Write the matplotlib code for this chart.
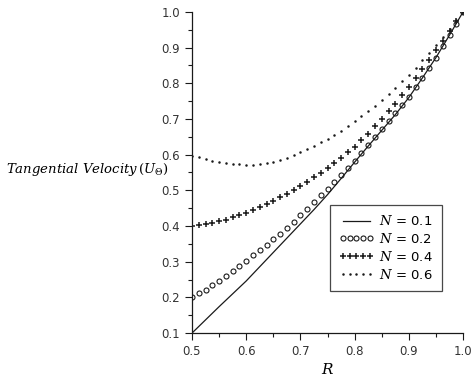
import matplotlib
matplotlib.use("Agg")
import matplotlib.pyplot as plt
import numpy as np

# ---- data ----
R_line = [0.5, 0.525, 0.55, 0.575, 0.6, 0.625, 0.65, 0.675, 0.7, 0.725, 0.75,
          0.775, 0.8, 0.825, 0.85, 0.875, 0.9, 0.925, 0.95, 0.975, 1.0]
U_N01 = [0.100, 0.137, 0.174, 0.210, 0.246, 0.286, 0.326, 0.366, 0.406, 0.446, 0.488,
         0.533, 0.579, 0.624, 0.668, 0.712, 0.760, 0.815, 0.872, 0.935, 1.0]

R_pts = [0.5, 0.5125, 0.525, 0.5375, 0.55, 0.5625, 0.575, 0.5875, 0.6, 0.6125,
         0.625, 0.6375, 0.65, 0.6625, 0.675, 0.6875, 0.7, 0.7125, 0.725, 0.7375,
         0.75, 0.7625, 0.775, 0.7875, 0.8, 0.8125, 0.825, 0.8375, 0.85, 0.8625,
         0.875, 0.8875, 0.9, 0.9125, 0.925, 0.9375, 0.95, 0.9625, 0.975, 0.9875, 1.0]
U_N02 = [0.200, 0.211, 0.222, 0.234, 0.247, 0.260, 0.274, 0.288, 0.303, 0.318,
         0.333, 0.348, 0.363, 0.379, 0.395, 0.412, 0.430, 0.449, 0.468, 0.486,
         0.505, 0.524, 0.543, 0.563, 0.583, 0.604, 0.626, 0.649, 0.672, 0.694,
         0.716, 0.739, 0.762, 0.789, 0.816, 0.844, 0.872, 0.903, 0.935, 0.967, 1.0]
U_N04 = [0.400, 0.402, 0.405, 0.409, 0.413, 0.418, 0.424, 0.430, 0.437, 0.444,
         0.452, 0.461, 0.470, 0.480, 0.490, 0.501, 0.512, 0.524, 0.536, 0.549,
         0.562, 0.576, 0.590, 0.606, 0.622, 0.640, 0.658, 0.679, 0.700, 0.721,
         0.743, 0.766, 0.790, 0.815, 0.840, 0.866, 0.893, 0.919, 0.946, 0.973, 1.0]
U_N06 = [0.597, 0.592, 0.587, 0.583, 0.579, 0.576, 0.574, 0.573, 0.572, 0.572,
         0.573, 0.576, 0.579, 0.584, 0.590, 0.598, 0.606, 0.615, 0.624, 0.634,
         0.644, 0.655, 0.667, 0.680, 0.693, 0.707, 0.721, 0.736, 0.752, 0.769,
         0.786, 0.805, 0.824, 0.844, 0.864, 0.885, 0.906, 0.929, 0.952, 0.976, 1.0]

labels = ["$N$ = 0.1", "$N$ = 0.2", "$N$ = 0.4", "$N$ = 0.6"]
x_ticks = [0.5, 0.6, 0.7, 0.8, 0.9, 1.0]
y_ticks = [0.1, 0.2, 0.3, 0.4, 0.5, 0.6, 0.7, 0.8, 0.9, 1.0]

plt.rcParams['mathtext.fontset'] = 'dejavuserif'

fig = plt.figure(figsize=(4.74, 3.82), dpi=100)
ax = fig.add_axes([0.405, 0.128, 0.572, 0.841])

c = '#1a1a1a'
ax.plot(R_line, U_N01, color=c, lw=0.9, label=labels[0])
ax.plot(R_pts, U_N02, ls='none', marker='o', ms=3.6, mfc='none', mec=c, mew=0.8, label=labels[1])
ax.plot(R_pts, U_N04, ls='none', marker='+', ms=4.2, mec=c, mew=1.1, label=labels[2])
ax.plot(R_pts, U_N06, ls='none', marker='o', ms=1.8, mfc=c, mec=c, mew=0, label=labels[3])

ax.set_xlim(0.5, 1.0)
ax.set_ylim(0.1, 1.0)
ax.set_xticks(x_ticks)
ax.set_yticks(y_ticks)
ax.set_xticklabels([f"{v:.1f}" for v in x_ticks])
ax.set_yticklabels([f"{v:.1f}" for v in y_ticks])
ax.set_xticks(np.arange(0.55, 1.0, 0.1), minor=True)
ax.set_yticks(np.arange(0.15, 1.0, 0.1), minor=True)
ax.tick_params(axis='both', which='major', length=5, width=0.8, labelsize=8.5,
               colors=c, labelcolor='#333333')
ax.tick_params(axis='both', which='minor', length=3, width=0.8, colors=c)
for s in ['top', 'right']:
    ax.spines[s].set_visible(False)
for s in ['left', 'bottom']:
    ax.spines[s].set_linewidth(0.9)
    ax.spines[s].set_color(c)

ax.set_xlabel("$R$", fontsize=11, labelpad=3)
fig.text(0.012, 0.555, r"$\mathit{Tangential\ Velocity}\,\left(U_{\Theta}\right)$",
         fontsize=9.5, ha='left', va='center')

leg = ax.legend(loc='upper left', bbox_to_anchor=(0.509, 0.399), numpoints=5,
                handlelength=2.6, fontsize=9.5, frameon=True, fancybox=False,
                edgecolor=c, borderpad=0.7, labelspacing=0.3, handletextpad=0.4,
                borderaxespad=0)
leg.get_frame().set_linewidth(0.9)

fig.savefig("out.png", dpi=100)
